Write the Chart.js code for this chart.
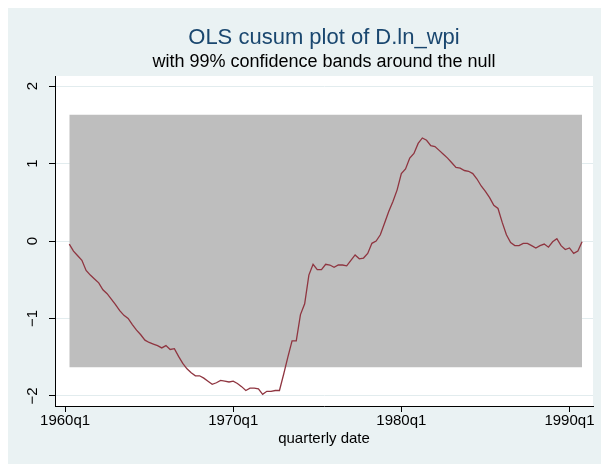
<!DOCTYPE html>
<html>
<head>
<meta charset="utf-8">
<script src="https://cdn.jsdelivr.net/npm/chart.js@4.4.0/dist/chart.umd.min.js"></script>
<style>
  html, body { margin: 0; padding: 0; background: #ffffff; }
</style>
</head>
<body>
<canvas id="cusumChart" width="601" height="464"></canvas>
<script>
// OLS cusum of D.ln_wpi, 1960q2 .. 1990q4 (quarters counted from 1960q1)
var firstQuarter = 1;
var cusum = [
  -0.04, -0.13, -0.19, -0.25, -0.38, -0.44, -0.49, -0.54, -0.63, -0.68,
  -0.75, -0.82, -0.90, -0.96, -1.00, -1.08, -1.15, -1.21, -1.28, -1.31,
  -1.33, -1.35, -1.38, -1.35, -1.40, -1.39, -1.49, -1.58, -1.65, -1.70,
  -1.74, -1.74, -1.77, -1.81, -1.85, -1.83, -1.80, -1.81, -1.82, -1.81,
  -1.84, -1.88, -1.93, -1.90, -1.90, -1.91, -1.98, -1.94, -1.94, -1.93,
  -1.93, -1.72, -1.50, -1.29, -1.29, -0.95, -0.81, -0.44, -0.30, -0.37,
  -0.37, -0.30, -0.31, -0.34, -0.31, -0.31, -0.32, -0.25, -0.18, -0.23,
  -0.22, -0.16, -0.03, 0.00, 0.08, 0.23, 0.38, 0.51, 0.66, 0.87,
  0.93, 1.07, 1.13, 1.26, 1.33, 1.30, 1.23, 1.22, 1.17, 1.12,
  1.07, 1.01, 0.95, 0.94, 0.91, 0.90, 0.87, 0.80, 0.71, 0.64,
  0.56, 0.46, 0.42, 0.24, 0.08, -0.02, -0.06, -0.06, -0.03, -0.03,
  -0.06, -0.09, -0.06, -0.04, -0.08, -0.01, 0.03, -0.06, -0.11, -0.09,
  -0.16, -0.13, -0.01
];

// 99% band
var bandUpper = 1.63;
var bandLower = -1.63;

var xTickValues = [0, 40, 80, 120];
var xTickLabels = ['1960q1', '1970q1', '1980q1', '1990q1'];
var yTickValues = [-2, -1, 0, 1, 2];
var yTickLabels = ['\u22122', '\u22121', '0', '1', '2'];

var titleText = 'OLS cusum plot of D.ln_wpi';
var subtitleText = 'with 99% confidence bands around the null';

var fontFam = '"Liberation Sans", Arial, Helvetica, sans-serif';

var points = cusum.map(function (v, i) {
  return { x: firstQuarter + i, y: v };
});
var lastQuarter = firstQuarter + cusum.length - 1;

var stataBackground = {
  id: 'stataBackground',
  beforeDraw: function (chart) {
    var ctx = chart.ctx;
    var a = chart.chartArea;
    ctx.save();
    ctx.fillStyle = '#ffffff';
    ctx.fillRect(0, 0, chart.width, chart.height);
    ctx.fillStyle = '#eaf2f3';
    ctx.fillRect(8, 8, chart.width - 8, chart.height - 8);
    ctx.fillStyle = '#ffffff';
    ctx.fillRect(a.left, a.top, a.right - a.left, a.bottom - a.top);
    ctx.restore();
  },
  afterDraw: function (chart) {
    var ctx = chart.ctx;
    var a = chart.chartArea;
    var cx = (a.left + a.right) / 2;
    ctx.save();
    ctx.textAlign = 'center';
    ctx.textBaseline = 'middle';
    ctx.fillStyle = '#1a476f';
    ctx.font = '22px ' + fontFam;
    ctx.fillText(titleText, cx, 38);
    ctx.fillStyle = '#000000';
    ctx.font = '18px ' + fontFam;
    ctx.fillText(subtitleText, cx, 62);

    // y tick labels, rotated like Stata
    var ys = chart.scales.y;
    ctx.font = '15px ' + fontFam;
    ys.ticks.forEach(function (t) {
      var py = ys.getPixelForValue(t.value);
      ctx.save();
      ctx.translate(33, py);
      ctx.rotate(-Math.PI / 2);
      ctx.fillText(yTickLabels[yTickValues.indexOf(t.value)], 0, 0);
      ctx.restore();
    });
    ctx.restore();
  }
};

var ctx = document.getElementById('cusumChart');
var chartCusum = new Chart(ctx, {
  type: 'line',
  plugins: [stataBackground],
  data: {
    datasets: [
      {
        label: 'CUSUM',
        data: points,
        borderColor: '#8f3540',
        borderWidth: 1.3,
        pointRadius: 0,
        tension: 0,
        fill: false,
        order: 1
      },
      {
        label: 'band',
        data: [
          { x: firstQuarter, y: bandUpper },
          { x: lastQuarter, y: bandUpper }
        ],
        borderWidth: 0,
        borderColor: 'rgba(0,0,0,0)',
        backgroundColor: '#bebebe',
        pointRadius: 0,
        fill: { value: bandLower },
        order: 2
      }
    ]
  },
  options: {
    responsive: false,
    animation: false,
    devicePixelRatio: 1,
    layout: {
      padding: { left: 0, right: 8, top: 76, bottom: 0 }
    },
    plugins: {
      legend: { display: false },
      tooltip: { enabled: false },
      title: { display: false }
    },
    scales: {
      x: {
        type: 'linear',
        min: -2.4,
        max: 125.6,
        afterBuildTicks: function (scale) {
          scale.ticks = xTickValues.map(function (v) { return { value: v }; });
        },
        afterFit: function (scale) {
          scale.height = 58;
        },
        ticks: {
          autoSkip: false,
          maxRotation: 0,
          padding: 0,
          color: '#000000',
          font: { family: fontFam, size: 15 },
          callback: function (value) {
            return xTickLabels[xTickValues.indexOf(value)];
          }
        },
        grid: {
          drawOnChartArea: false,
          drawTicks: true,
          tickLength: 6,
          tickColor: '#000000',
          tickWidth: 1
        },
        border: { display: true, color: '#000000', width: 1 },
        title: {
          display: true,
          text: 'quarterly date',
          color: '#000000',
          font: { family: fontFam, size: 15 },
          padding: { top: 0, bottom: 16 }
        }
      },
      y: {
        type: 'linear',
        min: -2.13,
        max: 2.13,
        afterBuildTicks: function (scale) {
          scale.ticks = yTickValues.map(function (v) { return { value: v }; });
        },
        afterFit: function (scale) {
          scale.width = 55;
        },
        ticks: {
          display: false
        },
        grid: {
          color: '#e2ecee',
          lineWidth: 1,
          drawTicks: true,
          tickLength: 6,
          tickColor: '#000000',
          tickWidth: 1
        },
        border: { display: true, color: '#000000', width: 1 }
      }
    }
  }
});
</script>
</body>
</html>
